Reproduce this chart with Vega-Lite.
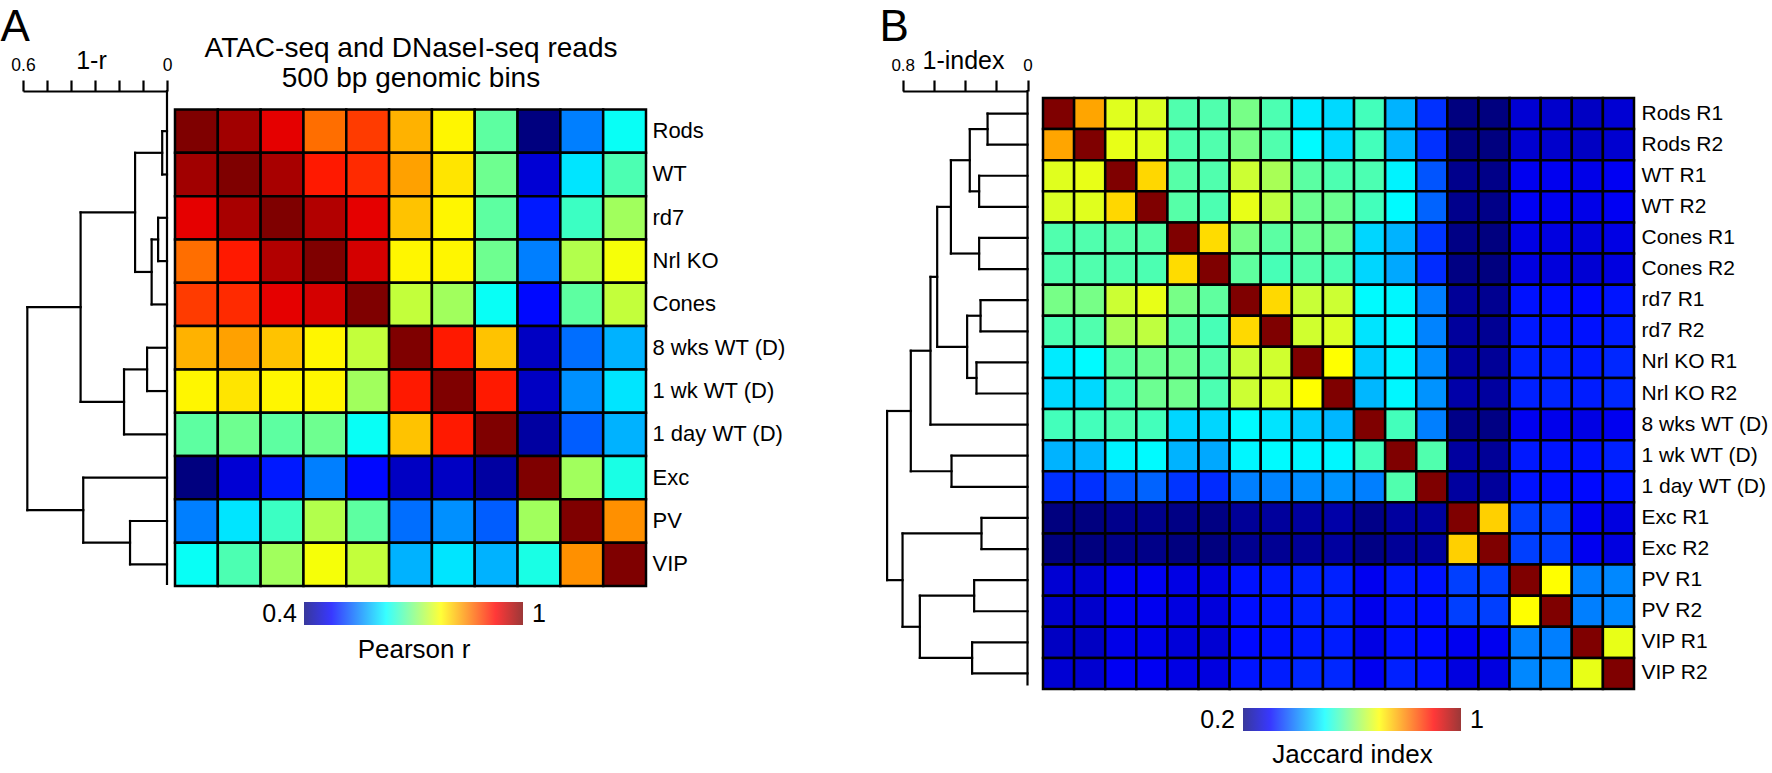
{
  "$schema": "https://vega.github.io/schema/vega-lite/v6.json",
  "width": 1772,
  "height": 773,
  "autosize": {"type": "none"},
  "padding": 0,
  "config": {
    "font": "Liberation Sans",
    "view": {"stroke": null},
    "axis": {"grid": false, "domainColor": "black", "tickColor": "black", "labelColor": "black", "titleColor": "black", "titleFontWeight": "normal"}
  },
  "resolve": {"scale": {"x": "independent", "y": "independent", "color": "independent"}, "axis": {"x": "independent", "y": "independent"}},
  "layer": [
    {
      "data": {"values": [
        {"r":0,"c":0,"v":1},{"r":0,"c":1,"v":0.98},{"r":0,"c":2,"v":0.94},{"r":0,"c":3,"v":0.86},{"r":0,"c":4,"v":0.89},{"r":0,"c":5,"v":0.82},{"r":0,"c":6,"v":0.78},{"r":0,"c":7,"v":0.68},{"r":0,"c":8,"v":0.40},{"r":0,"c":9,"v":0.55},{"r":0,"c":10,"v":0.63},
        {"r":1,"c":0,"v":0.98},{"r":1,"c":1,"v":1},{"r":1,"c":2,"v":0.976},{"r":1,"c":3,"v":0.91},{"r":1,"c":4,"v":0.90},{"r":1,"c":5,"v":0.83},{"r":1,"c":6,"v":0.79},{"r":1,"c":7,"v":0.69},{"r":1,"c":8,"v":0.45},{"r":1,"c":9,"v":0.61},{"r":1,"c":10,"v":0.67},
        {"r":2,"c":0,"v":0.94},{"r":2,"c":1,"v":0.976},{"r":2,"c":2,"v":1},{"r":2,"c":3,"v":0.97},{"r":2,"c":4,"v":0.94},{"r":2,"c":5,"v":0.81},{"r":2,"c":6,"v":0.78},{"r":2,"c":7,"v":0.68},{"r":2,"c":8,"v":0.49},{"r":2,"c":9,"v":0.66},{"r":2,"c":10,"v":0.72},
        {"r":3,"c":0,"v":0.86},{"r":3,"c":1,"v":0.91},{"r":3,"c":2,"v":0.97},{"r":3,"c":3,"v":1},{"r":3,"c":4,"v":0.95},{"r":3,"c":5,"v":0.78},{"r":3,"c":6,"v":0.78},{"r":3,"c":7,"v":0.69},{"r":3,"c":8,"v":0.55},{"r":3,"c":9,"v":0.73},{"r":3,"c":10,"v":0.77},
        {"r":4,"c":0,"v":0.89},{"r":4,"c":1,"v":0.90},{"r":4,"c":2,"v":0.94},{"r":4,"c":3,"v":0.95},{"r":4,"c":4,"v":1},{"r":4,"c":5,"v":0.74},{"r":4,"c":6,"v":0.72},{"r":4,"c":7,"v":0.63},{"r":4,"c":8,"v":0.48},{"r":4,"c":9,"v":0.68},{"r":4,"c":10,"v":0.74},
        {"r":5,"c":0,"v":0.82},{"r":5,"c":1,"v":0.83},{"r":5,"c":2,"v":0.81},{"r":5,"c":3,"v":0.78},{"r":5,"c":4,"v":0.74},{"r":5,"c":5,"v":1},{"r":5,"c":6,"v":0.91},{"r":5,"c":7,"v":0.81},{"r":5,"c":8,"v":0.44},{"r":5,"c":9,"v":0.54},{"r":5,"c":10,"v":0.58},
        {"r":6,"c":0,"v":0.78},{"r":6,"c":1,"v":0.79},{"r":6,"c":2,"v":0.78},{"r":6,"c":3,"v":0.78},{"r":6,"c":4,"v":0.72},{"r":6,"c":5,"v":0.91},{"r":6,"c":6,"v":1},{"r":6,"c":7,"v":0.91},{"r":6,"c":8,"v":0.44},{"r":6,"c":9,"v":0.56},{"r":6,"c":10,"v":0.61},
        {"r":7,"c":0,"v":0.68},{"r":7,"c":1,"v":0.69},{"r":7,"c":2,"v":0.68},{"r":7,"c":3,"v":0.69},{"r":7,"c":4,"v":0.63},{"r":7,"c":5,"v":0.81},{"r":7,"c":6,"v":0.91},{"r":7,"c":7,"v":1},{"r":7,"c":8,"v":0.42},{"r":7,"c":9,"v":0.53},{"r":7,"c":10,"v":0.58},
        {"r":8,"c":0,"v":0.40},{"r":8,"c":1,"v":0.45},{"r":8,"c":2,"v":0.49},{"r":8,"c":3,"v":0.55},{"r":8,"c":4,"v":0.48},{"r":8,"c":5,"v":0.44},{"r":8,"c":6,"v":0.44},{"r":8,"c":7,"v":0.42},{"r":8,"c":8,"v":1},{"r":8,"c":9,"v":0.72},{"r":8,"c":10,"v":0.64},
        {"r":9,"c":0,"v":0.55},{"r":9,"c":1,"v":0.61},{"r":9,"c":2,"v":0.66},{"r":9,"c":3,"v":0.73},{"r":9,"c":4,"v":0.68},{"r":9,"c":5,"v":0.54},{"r":9,"c":6,"v":0.56},{"r":9,"c":7,"v":0.53},{"r":9,"c":8,"v":0.72},{"r":9,"c":9,"v":1},{"r":9,"c":10,"v":0.84},
        {"r":10,"c":0,"v":0.63},{"r":10,"c":1,"v":0.67},{"r":10,"c":2,"v":0.72},{"r":10,"c":3,"v":0.77},{"r":10,"c":4,"v":0.74},{"r":10,"c":5,"v":0.58},{"r":10,"c":6,"v":0.61},{"r":10,"c":7,"v":0.58},{"r":10,"c":8,"v":0.64},{"r":10,"c":9,"v":0.84},{"r":10,"c":10,"v":1}
      ]},
      "transform": [{"lookup": "r", "from": {"data": {"values": [
        {"i":0,"name":"Rods"},{"i":1,"name":"WT"},{"i":2,"name":"rd7"},{"i":3,"name":"Nrl KO"},{"i":4,"name":"Cones"},{"i":5,"name":"8 wks WT (D)"},{"i":6,"name":"1 wk WT (D)"},{"i":7,"name":"1 day WT (D)"},{"i":8,"name":"Exc"},{"i":9,"name":"PV"},{"i":10,"name":"VIP"}
      ]}, "key": "i", "fields": ["name"]}}],
      "mark": {"type": "rect", "stroke": "black", "strokeWidth": 2.5},
      "encoding": {
        "x": {"field": "c", "type": "ordinal", "scale": {"range": [175, 646], "paddingInner": 0, "paddingOuter": 0},
          "axis": {"orient": "top", "offset": -109.5, "labels": false, "ticks": false, "domain": false,
            "title": ["ATAC-seq and DNaseI-seq reads", "500 bp genomic bins"], "titleFontSize": 28, "titleLineHeight": 30.5,
            "titleBaseline": "alphabetic", "titleY": -53.5}},
        "y": {"field": "name", "type": "ordinal", "sort": {"field": "r", "op": "min"}, "scale": {"range": [109.5, 586], "paddingInner": 0, "paddingOuter": 0},
          "axis": {"orient": "right", "offset": -1126, "title": null, "domain": false, "ticks": false, "labelFontSize": 22, "labelPadding": 6}},
        "color": {"field": "v", "type": "quantitative", "legend": null,
          "scale": {"domain": [0.4, 0.475, 0.55, 0.625, 0.7, 0.775, 0.85, 0.925, 1], "range": ["#00007F","#0000FF","#007FFF","#00FFFF","#7FFF7F","#FFFF00","#FF7F00","#FF0000","#7F0000"], "interpolate": "rgb"}}
      }
    },
    {
      "data": {"values": [
        {"x1":0,"x2":0,"y1":-0.427,"y2":10.95},
        {"x1":0,"x2":0.02,"y1":0.5,"y2":0.5},{"x1":0,"x2":0.02,"y1":1.5,"y2":1.5},{"x1":0.02,"x2":0.02,"y1":0.5,"y2":1.5},
        {"x1":0,"x2":0.037,"y1":2.5,"y2":2.5},{"x1":0,"x2":0.037,"y1":3.5,"y2":3.5},{"x1":0.037,"x2":0.037,"y1":2.5,"y2":3.5},
        {"x1":0.037,"x2":0.064,"y1":3,"y2":3},{"x1":0,"x2":0.064,"y1":4.5,"y2":4.5},{"x1":0.064,"x2":0.064,"y1":3,"y2":4.5},
        {"x1":0.02,"x2":0.133,"y1":1,"y2":1},{"x1":0.064,"x2":0.133,"y1":3.75,"y2":3.75},{"x1":0.133,"x2":0.133,"y1":1,"y2":3.75},
        {"x1":0,"x2":0.083,"y1":5.5,"y2":5.5},{"x1":0,"x2":0.083,"y1":6.5,"y2":6.5},{"x1":0.083,"x2":0.083,"y1":5.5,"y2":6.5},
        {"x1":0.083,"x2":0.179,"y1":6,"y2":6},{"x1":0,"x2":0.179,"y1":7.5,"y2":7.5},{"x1":0.179,"x2":0.179,"y1":6,"y2":7.5},
        {"x1":0.133,"x2":0.36,"y1":2.375,"y2":2.375},{"x1":0.179,"x2":0.36,"y1":6.75,"y2":6.75},{"x1":0.36,"x2":0.36,"y1":2.375,"y2":6.75},
        {"x1":0,"x2":0.154,"y1":9.5,"y2":9.5},{"x1":0,"x2":0.154,"y1":10.5,"y2":10.5},{"x1":0.154,"x2":0.154,"y1":9.5,"y2":10.5},
        {"x1":0,"x2":0.349,"y1":8.5,"y2":8.5},{"x1":0.154,"x2":0.349,"y1":10,"y2":10},{"x1":0.349,"x2":0.349,"y1":8.5,"y2":10},
        {"x1":0.36,"x2":0.582,"y1":4.5625,"y2":4.5625},{"x1":0.349,"x2":0.582,"y1":9.25,"y2":9.25},{"x1":0.582,"x2":0.582,"y1":4.5625,"y2":9.25}
      ]},
      "mark": {"type": "rule", "color": "black", "strokeWidth": 2.2, "strokeCap": "square"},
      "encoding": {
        "x": {"field": "x1", "type": "quantitative", "scale": {"domain": [0, 0.6], "range": [167, 23], "nice": false, "zero": false},
          "axis": {"orient": "top", "offset": -91, "values": [0, 0.1, 0.2, 0.3, 0.4, 0.5, 0.6], "format": "~g",
            "labelExpr": "datum.value == 0 || datum.value == 0.6 ? datum.label : ''", "labelFlush": false, "labelOverlap": false,
            "tickSize": 11, "tickWidth": 2.2, "domainWidth": 2.2, "labelFontSize": 17.5, "labelBaseline": "alphabetic", "labelPadding": 10,
            "title": "1-r", "titleFontSize": 25, "titleX": 91, "titleY": -23, "titleBaseline": "alphabetic", "titleAlign": "center"}},
        "x2": {"field": "x2"},
        "y": {"field": "y1", "type": "quantitative", "scale": {"domain": [0, 11], "range": [109.5, 586], "nice": false, "zero": false},
          "axis": {"orient": "left", "offset": 0, "domain": false, "ticks": false, "labels": false,
            "title": "A", "titleAngle": 0, "titleFontSize": 44, "titleX": 0, "titleY": 40.5, "titleAlign": "left", "titleBaseline": "alphabetic"}},
        "y2": {"field": "y2"}
      }
    },
    {
      "data": {"values": [{"lo": 0.4, "hi": 1, "loText": "0.4", "hiText": "1"}]},
      "encoding": {
        "x": {"field": "lo", "type": "quantitative", "scale": {"domain": [0.4, 1], "range": [304, 523], "nice": false, "zero": false},
          "axis": {"orient": "bottom", "offset": -148, "labels": false, "ticks": false, "domain": false,
            "title": "Pearson r", "titleFontSize": 26, "titleY": 32, "titleBaseline": "alphabetic"}},
        "y": {"datum": 0.5, "type": "quantitative", "scale": {"domain": [0, 1], "range": [625, 602], "nice": false, "zero": false}, "axis": null}
      },
      "layer": [
        {"mark": {"type": "rect", "opacity": 0.78, "color": {"gradient": "linear", "x1": 0, "y1": 0, "x2": 1, "y2": 0, "stops": [
          {"offset": 0, "color": "#00007F"}, {"offset": 0.125, "color": "#0000FF"}, {"offset": 0.375, "color": "#00FFFF"},
          {"offset": 0.625, "color": "#FFFF00"}, {"offset": 0.875, "color": "#FF0000"}, {"offset": 1, "color": "#7F0000"}]}},
         "encoding": {"x2": {"field": "hi"}, "y": {"datum": 0, "type": "quantitative"}, "y2": {"datum": 1}}},
        {"mark": {"type": "text", "align": "right", "baseline": "middle", "dx": -7, "fontSize": 25, "color": "black"},
         "encoding": {"text": {"field": "loText"}}},
        {"mark": {"type": "text", "align": "left", "baseline": "middle", "dx": 9, "fontSize": 25, "color": "black"},
         "encoding": {"x": {"field": "hi", "type": "quantitative"}, "text": {"field": "hiText"}}}
      ]
    },
    {
      "data": {"values": [
        {"r":0,"c":0,"v":1},{"r":0,"c":1,"v":0.77},{"r":0,"c":2,"v":0.676},{"r":0,"c":3,"v":0.671},{"r":0,"c":4,"v":0.563},{"r":0,"c":5,"v":0.563},{"r":0,"c":6,"v":0.594},{"r":0,"c":7,"v":0.56},{"r":0,"c":8,"v":0.484},{"r":0,"c":9,"v":0.47},{"r":0,"c":10,"v":0.553},{"r":0,"c":11,"v":0.441},{"r":0,"c":12,"v":0.338},{"r":0,"c":13,"v":0.2},{"r":0,"c":14,"v":0.2},{"r":0,"c":15,"v":0.266},{"r":0,"c":16,"v":0.26},{"r":0,"c":17,"v":0.253},{"r":0,"c":18,"v":0.266},
        {"r":1,"c":0,"v":0.77},{"r":1,"c":1,"v":1},{"r":1,"c":2,"v":0.682},{"r":1,"c":3,"v":0.676},{"r":1,"c":4,"v":0.563},{"r":1,"c":5,"v":0.563},{"r":1,"c":6,"v":0.594},{"r":1,"c":7,"v":0.563},{"r":1,"c":8,"v":0.497},{"r":1,"c":9,"v":0.47},{"r":1,"c":10,"v":0.553},{"r":1,"c":11,"v":0.444},{"r":1,"c":12,"v":0.338},{"r":1,"c":13,"v":0.2},{"r":1,"c":14,"v":0.2},{"r":1,"c":15,"v":0.263},{"r":1,"c":16,"v":0.26},{"r":1,"c":17,"v":0.253},{"r":1,"c":18,"v":0.263},
        {"r":2,"c":0,"v":0.676},{"r":2,"c":1,"v":0.682},{"r":2,"c":2,"v":1},{"r":2,"c":3,"v":0.731},{"r":2,"c":4,"v":0.568},{"r":2,"c":5,"v":0.563},{"r":2,"c":6,"v":0.66},{"r":2,"c":7,"v":0.632},{"r":2,"c":8,"v":0.572},{"r":2,"c":9,"v":0.561},{"r":2,"c":10,"v":0.56},{"r":2,"c":11,"v":0.491},{"r":2,"c":12,"v":0.366},{"r":2,"c":13,"v":0.21},{"r":2,"c":14,"v":0.207},{"r":2,"c":15,"v":0.288},{"r":2,"c":16,"v":0.288},{"r":2,"c":17,"v":0.282},{"r":2,"c":18,"v":0.291},
        {"r":3,"c":0,"v":0.671},{"r":3,"c":1,"v":0.676},{"r":3,"c":2,"v":0.731},{"r":3,"c":3,"v":1},{"r":3,"c":4,"v":0.568},{"r":3,"c":5,"v":0.56},{"r":3,"c":6,"v":0.682},{"r":3,"c":7,"v":0.65},{"r":3,"c":8,"v":0.585},{"r":3,"c":9,"v":0.585},{"r":3,"c":10,"v":0.553},{"r":3,"c":11,"v":0.497},{"r":3,"c":12,"v":0.378},{"r":3,"c":13,"v":0.21},{"r":3,"c":14,"v":0.207},{"r":3,"c":15,"v":0.291},{"r":3,"c":16,"v":0.288},{"r":3,"c":17,"v":0.282},{"r":3,"c":18,"v":0.291},
        {"r":4,"c":0,"v":0.563},{"r":4,"c":1,"v":0.563},{"r":4,"c":2,"v":0.568},{"r":4,"c":3,"v":0.568},{"r":4,"c":4,"v":1},{"r":4,"c":5,"v":0.727},{"r":4,"c":6,"v":0.594},{"r":4,"c":7,"v":0.572},{"r":4,"c":8,"v":0.585},{"r":4,"c":9,"v":0.588},{"r":4,"c":10,"v":0.468},{"r":4,"c":11,"v":0.441},{"r":4,"c":12,"v":0.341},{"r":4,"c":13,"v":0.205},{"r":4,"c":14,"v":0.2},{"r":4,"c":15,"v":0.279},{"r":4,"c":16,"v":0.276},{"r":4,"c":17,"v":0.27},{"r":4,"c":18,"v":0.279},
        {"r":5,"c":0,"v":0.563},{"r":5,"c":1,"v":0.563},{"r":5,"c":2,"v":0.563},{"r":5,"c":3,"v":0.56},{"r":5,"c":4,"v":0.727},{"r":5,"c":5,"v":1},{"r":5,"c":6,"v":0.575},{"r":5,"c":7,"v":0.556},{"r":5,"c":8,"v":0.566},{"r":5,"c":9,"v":0.56},{"r":5,"c":10,"v":0.468},{"r":5,"c":11,"v":0.432},{"r":5,"c":12,"v":0.334},{"r":5,"c":13,"v":0.203},{"r":5,"c":14,"v":0.2},{"r":5,"c":15,"v":0.276},{"r":5,"c":16,"v":0.273},{"r":5,"c":17,"v":0.266},{"r":5,"c":18,"v":0.276},
        {"r":6,"c":0,"v":0.594},{"r":6,"c":1,"v":0.594},{"r":6,"c":2,"v":0.66},{"r":6,"c":3,"v":0.682},{"r":6,"c":4,"v":0.594},{"r":6,"c":5,"v":0.575},{"r":6,"c":6,"v":1},{"r":6,"c":7,"v":0.73},{"r":6,"c":8,"v":0.657},{"r":6,"c":9,"v":0.66},{"r":6,"c":10,"v":0.497},{"r":6,"c":11,"v":0.494},{"r":6,"c":12,"v":0.4},{"r":6,"c":13,"v":0.219},{"r":6,"c":14,"v":0.213},{"r":6,"c":15,"v":0.313},{"r":6,"c":16,"v":0.31},{"r":6,"c":17,"v":0.306},{"r":6,"c":18,"v":0.316},
        {"r":7,"c":0,"v":0.56},{"r":7,"c":1,"v":0.563},{"r":7,"c":2,"v":0.632},{"r":7,"c":3,"v":0.65},{"r":7,"c":4,"v":0.572},{"r":7,"c":5,"v":0.556},{"r":7,"c":6,"v":0.73},{"r":7,"c":7,"v":1},{"r":7,"c":8,"v":0.663},{"r":7,"c":9,"v":0.67},{"r":7,"c":10,"v":0.479},{"r":7,"c":11,"v":0.497},{"r":7,"c":12,"v":0.403},{"r":7,"c":13,"v":0.223},{"r":7,"c":14,"v":0.216},{"r":7,"c":15,"v":0.319},{"r":7,"c":16,"v":0.316},{"r":7,"c":17,"v":0.313},{"r":7,"c":18,"v":0.322},
        {"r":8,"c":0,"v":0.484},{"r":8,"c":1,"v":0.497},{"r":8,"c":2,"v":0.572},{"r":8,"c":3,"v":0.585},{"r":8,"c":4,"v":0.585},{"r":8,"c":5,"v":0.566},{"r":8,"c":6,"v":0.657},{"r":8,"c":7,"v":0.663},{"r":8,"c":8,"v":1},{"r":8,"c":9,"v":0.7},{"r":8,"c":10,"v":0.46},{"r":8,"c":11,"v":0.494},{"r":8,"c":12,"v":0.41},{"r":8,"c":13,"v":0.225},{"r":8,"c":14,"v":0.219},{"r":8,"c":15,"v":0.325},{"r":8,"c":16,"v":0.325},{"r":8,"c":17,"v":0.319},{"r":8,"c":18,"v":0.331},
        {"r":9,"c":0,"v":0.47},{"r":9,"c":1,"v":0.47},{"r":9,"c":2,"v":0.561},{"r":9,"c":3,"v":0.585},{"r":9,"c":4,"v":0.588},{"r":9,"c":5,"v":0.56},{"r":9,"c":6,"v":0.66},{"r":9,"c":7,"v":0.67},{"r":9,"c":8,"v":0.7},{"r":9,"c":9,"v":1},{"r":9,"c":10,"v":0.444},{"r":9,"c":11,"v":0.494},{"r":9,"c":12,"v":0.416},{"r":9,"c":13,"v":0.232},{"r":9,"c":14,"v":0.225},{"r":9,"c":15,"v":0.325},{"r":9,"c":16,"v":0.328},{"r":9,"c":17,"v":0.322},{"r":9,"c":18,"v":0.331},
        {"r":10,"c":0,"v":0.553},{"r":10,"c":1,"v":0.553},{"r":10,"c":2,"v":0.56},{"r":10,"c":3,"v":0.553},{"r":10,"c":4,"v":0.468},{"r":10,"c":5,"v":0.468},{"r":10,"c":6,"v":0.497},{"r":10,"c":7,"v":0.479},{"r":10,"c":8,"v":0.46},{"r":10,"c":9,"v":0.444},{"r":10,"c":10,"v":1},{"r":10,"c":11,"v":0.553},{"r":10,"c":12,"v":0.4},{"r":10,"c":13,"v":0.207},{"r":10,"c":14,"v":0.204},{"r":10,"c":15,"v":0.288},{"r":10,"c":16,"v":0.285},{"r":10,"c":17,"v":0.279},{"r":10,"c":18,"v":0.288},
        {"r":11,"c":0,"v":0.441},{"r":11,"c":1,"v":0.444},{"r":11,"c":2,"v":0.491},{"r":11,"c":3,"v":0.497},{"r":11,"c":4,"v":0.441},{"r":11,"c":5,"v":0.432},{"r":11,"c":6,"v":0.494},{"r":11,"c":7,"v":0.497},{"r":11,"c":8,"v":0.494},{"r":11,"c":9,"v":0.494},{"r":11,"c":10,"v":0.553},{"r":11,"c":11,"v":1},{"r":11,"c":12,"v":0.563},{"r":11,"c":13,"v":0.225},{"r":11,"c":14,"v":0.219},{"r":11,"c":15,"v":0.319},{"r":11,"c":16,"v":0.316},{"r":11,"c":17,"v":0.313},{"r":11,"c":18,"v":0.325},
        {"r":12,"c":0,"v":0.338},{"r":12,"c":1,"v":0.338},{"r":12,"c":2,"v":0.366},{"r":12,"c":3,"v":0.378},{"r":12,"c":4,"v":0.341},{"r":12,"c":5,"v":0.334},{"r":12,"c":6,"v":0.4},{"r":12,"c":7,"v":0.403},{"r":12,"c":8,"v":0.41},{"r":12,"c":9,"v":0.416},{"r":12,"c":10,"v":0.4},{"r":12,"c":11,"v":0.563},{"r":12,"c":12,"v":1},{"r":12,"c":13,"v":0.225},{"r":12,"c":14,"v":0.222},{"r":12,"c":15,"v":0.313},{"r":12,"c":16,"v":0.31},{"r":12,"c":17,"v":0.306},{"r":12,"c":18,"v":0.313},
        {"r":13,"c":0,"v":0.2},{"r":13,"c":1,"v":0.2},{"r":13,"c":2,"v":0.21},{"r":13,"c":3,"v":0.21},{"r":13,"c":4,"v":0.205},{"r":13,"c":5,"v":0.203},{"r":13,"c":6,"v":0.219},{"r":13,"c":7,"v":0.223},{"r":13,"c":8,"v":0.225},{"r":13,"c":9,"v":0.232},{"r":13,"c":10,"v":0.207},{"r":13,"c":11,"v":0.225},{"r":13,"c":12,"v":0.225},{"r":13,"c":13,"v":1},{"r":13,"c":14,"v":0.737},{"r":13,"c":15,"v":0.35},{"r":13,"c":16,"v":0.35},{"r":13,"c":17,"v":0.288},{"r":13,"c":18,"v":0.276},
        {"r":14,"c":0,"v":0.2},{"r":14,"c":1,"v":0.2},{"r":14,"c":2,"v":0.207},{"r":14,"c":3,"v":0.207},{"r":14,"c":4,"v":0.2},{"r":14,"c":5,"v":0.2},{"r":14,"c":6,"v":0.213},{"r":14,"c":7,"v":0.216},{"r":14,"c":8,"v":0.219},{"r":14,"c":9,"v":0.225},{"r":14,"c":10,"v":0.204},{"r":14,"c":11,"v":0.219},{"r":14,"c":12,"v":0.222},{"r":14,"c":13,"v":0.737},{"r":14,"c":14,"v":1},{"r":14,"c":15,"v":0.35},{"r":14,"c":16,"v":0.35},{"r":14,"c":17,"v":0.288},{"r":14,"c":18,"v":0.276},
        {"r":15,"c":0,"v":0.266},{"r":15,"c":1,"v":0.263},{"r":15,"c":2,"v":0.288},{"r":15,"c":3,"v":0.291},{"r":15,"c":4,"v":0.279},{"r":15,"c":5,"v":0.276},{"r":15,"c":6,"v":0.313},{"r":15,"c":7,"v":0.319},{"r":15,"c":8,"v":0.325},{"r":15,"c":9,"v":0.325},{"r":15,"c":10,"v":0.288},{"r":15,"c":11,"v":0.319},{"r":15,"c":12,"v":0.313},{"r":15,"c":13,"v":0.35},{"r":15,"c":14,"v":0.35},{"r":15,"c":15,"v":1},{"r":15,"c":16,"v":0.7},{"r":15,"c":17,"v":0.4},{"r":15,"c":18,"v":0.407},
        {"r":16,"c":0,"v":0.26},{"r":16,"c":1,"v":0.26},{"r":16,"c":2,"v":0.288},{"r":16,"c":3,"v":0.288},{"r":16,"c":4,"v":0.276},{"r":16,"c":5,"v":0.273},{"r":16,"c":6,"v":0.31},{"r":16,"c":7,"v":0.316},{"r":16,"c":8,"v":0.325},{"r":16,"c":9,"v":0.328},{"r":16,"c":10,"v":0.285},{"r":16,"c":11,"v":0.316},{"r":16,"c":12,"v":0.31},{"r":16,"c":13,"v":0.35},{"r":16,"c":14,"v":0.35},{"r":16,"c":15,"v":0.7},{"r":16,"c":16,"v":1},{"r":16,"c":17,"v":0.4},{"r":16,"c":18,"v":0.407},
        {"r":17,"c":0,"v":0.253},{"r":17,"c":1,"v":0.253},{"r":17,"c":2,"v":0.282},{"r":17,"c":3,"v":0.282},{"r":17,"c":4,"v":0.27},{"r":17,"c":5,"v":0.266},{"r":17,"c":6,"v":0.306},{"r":17,"c":7,"v":0.313},{"r":17,"c":8,"v":0.319},{"r":17,"c":9,"v":0.322},{"r":17,"c":10,"v":0.279},{"r":17,"c":11,"v":0.313},{"r":17,"c":12,"v":0.306},{"r":17,"c":13,"v":0.288},{"r":17,"c":14,"v":0.288},{"r":17,"c":15,"v":0.4},{"r":17,"c":16,"v":0.4},{"r":17,"c":17,"v":1},{"r":17,"c":18,"v":0.682},
        {"r":18,"c":0,"v":0.266},{"r":18,"c":1,"v":0.263},{"r":18,"c":2,"v":0.291},{"r":18,"c":3,"v":0.291},{"r":18,"c":4,"v":0.279},{"r":18,"c":5,"v":0.276},{"r":18,"c":6,"v":0.316},{"r":18,"c":7,"v":0.322},{"r":18,"c":8,"v":0.331},{"r":18,"c":9,"v":0.331},{"r":18,"c":10,"v":0.288},{"r":18,"c":11,"v":0.325},{"r":18,"c":12,"v":0.313},{"r":18,"c":13,"v":0.276},{"r":18,"c":14,"v":0.276},{"r":18,"c":15,"v":0.407},{"r":18,"c":16,"v":0.407},{"r":18,"c":17,"v":0.682},{"r":18,"c":18,"v":1}
      ]},
      "transform": [{"lookup": "r", "from": {"data": {"values": [
        {"i":0,"name":"Rods R1"},{"i":1,"name":"Rods R2"},{"i":2,"name":"WT R1"},{"i":3,"name":"WT R2"},{"i":4,"name":"Cones R1"},{"i":5,"name":"Cones R2"},{"i":6,"name":"rd7 R1"},{"i":7,"name":"rd7 R2"},{"i":8,"name":"Nrl KO R1"},{"i":9,"name":"Nrl KO R2"},{"i":10,"name":"8 wks WT (D)"},{"i":11,"name":"1 wk WT (D)"},{"i":12,"name":"1 day WT (D)"},{"i":13,"name":"Exc R1"},{"i":14,"name":"Exc R2"},{"i":15,"name":"PV R1"},{"i":16,"name":"PV R2"},{"i":17,"name":"VIP R1"},{"i":18,"name":"VIP R2"}
      ]}, "key": "i", "fields": ["name"]}}],
      "mark": {"type": "rect", "stroke": "black", "strokeWidth": 2.5},
      "encoding": {
        "x": {"field": "c", "type": "ordinal", "scale": {"range": [1043, 1634], "paddingInner": 0, "paddingOuter": 0}, "axis": null},
        "y": {"field": "name", "type": "ordinal", "sort": {"field": "r", "op": "min"}, "scale": {"range": [98, 689], "paddingInner": 0, "paddingOuter": 0},
          "axis": {"orient": "right", "offset": -138, "title": null, "domain": false, "ticks": false, "labelFontSize": 21, "labelPadding": 7}},
        "color": {"field": "v", "type": "quantitative", "legend": null,
          "scale": {"domain": [0.2, 0.3, 0.4, 0.5, 0.6, 0.7, 0.8, 0.9, 1], "range": ["#00007F","#0000FF","#007FFF","#00FFFF","#7FFF7F","#FFFF00","#FF7F00","#FF0000","#7F0000"], "interpolate": "rgb"}}
      }
    },
    {
      "data": {"values": [
        {"x1":0,"x2":0,"y1":-0.225,"y2":18.85},
        {"x1":0,"x2":0.256,"y1":0.5,"y2":0.5},{"x1":0,"x2":0.256,"y1":1.5,"y2":1.5},{"x1":0.256,"x2":0.256,"y1":0.5,"y2":1.5},
        {"x1":0,"x2":0.31,"y1":2.5,"y2":2.5},{"x1":0,"x2":0.31,"y1":3.5,"y2":3.5},{"x1":0.31,"x2":0.31,"y1":2.5,"y2":3.5},
        {"x1":0.256,"x2":0.37,"y1":1,"y2":1},{"x1":0.31,"x2":0.37,"y1":3,"y2":3},{"x1":0.37,"x2":0.37,"y1":1,"y2":3},
        {"x1":0,"x2":0.31,"y1":4.5,"y2":4.5},{"x1":0,"x2":0.31,"y1":5.5,"y2":5.5},{"x1":0.31,"x2":0.31,"y1":4.5,"y2":5.5},
        {"x1":0.37,"x2":0.491,"y1":2,"y2":2},{"x1":0.31,"x2":0.491,"y1":5,"y2":5},{"x1":0.491,"x2":0.491,"y1":2,"y2":5},
        {"x1":0,"x2":0.301,"y1":6.5,"y2":6.5},{"x1":0,"x2":0.301,"y1":7.5,"y2":7.5},{"x1":0.301,"x2":0.301,"y1":6.5,"y2":7.5},
        {"x1":0,"x2":0.327,"y1":8.5,"y2":8.5},{"x1":0,"x2":0.327,"y1":9.5,"y2":9.5},{"x1":0.327,"x2":0.327,"y1":8.5,"y2":9.5},
        {"x1":0.301,"x2":0.387,"y1":7,"y2":7},{"x1":0.327,"x2":0.387,"y1":9,"y2":9},{"x1":0.387,"x2":0.387,"y1":7,"y2":9},
        {"x1":0.491,"x2":0.579,"y1":3.5,"y2":3.5},{"x1":0.387,"x2":0.579,"y1":8,"y2":8},{"x1":0.579,"x2":0.579,"y1":3.5,"y2":8},
        {"x1":0.579,"x2":0.622,"y1":5.75,"y2":5.75},{"x1":0,"x2":0.622,"y1":10.5,"y2":10.5},{"x1":0.622,"x2":0.622,"y1":5.75,"y2":10.5},
        {"x1":0,"x2":0.487,"y1":11.5,"y2":11.5},{"x1":0,"x2":0.487,"y1":12.5,"y2":12.5},{"x1":0.487,"x2":0.487,"y1":11.5,"y2":12.5},
        {"x1":0.622,"x2":0.748,"y1":8.125,"y2":8.125},{"x1":0.487,"x2":0.748,"y1":12,"y2":12},{"x1":0.748,"x2":0.748,"y1":8.125,"y2":12},
        {"x1":0,"x2":0.295,"y1":13.5,"y2":13.5},{"x1":0,"x2":0.295,"y1":14.5,"y2":14.5},{"x1":0.295,"x2":0.295,"y1":13.5,"y2":14.5},
        {"x1":0,"x2":0.342,"y1":15.5,"y2":15.5},{"x1":0,"x2":0.342,"y1":16.5,"y2":16.5},{"x1":0.342,"x2":0.342,"y1":15.5,"y2":16.5},
        {"x1":0,"x2":0.355,"y1":17.5,"y2":17.5},{"x1":0,"x2":0.355,"y1":18.5,"y2":18.5},{"x1":0.355,"x2":0.355,"y1":17.5,"y2":18.5},
        {"x1":0.342,"x2":0.69,"y1":16,"y2":16},{"x1":0.355,"x2":0.69,"y1":18,"y2":18},{"x1":0.69,"x2":0.69,"y1":16,"y2":18},
        {"x1":0.295,"x2":0.801,"y1":14,"y2":14},{"x1":0.69,"x2":0.801,"y1":17,"y2":17},{"x1":0.801,"x2":0.801,"y1":14,"y2":17},
        {"x1":0.748,"x2":0.9,"y1":10.0625,"y2":10.0625},{"x1":0.801,"x2":0.9,"y1":15.5,"y2":15.5},{"x1":0.9,"x2":0.9,"y1":10.0625,"y2":15.5}
      ]},
      "mark": {"type": "rule", "color": "black", "strokeWidth": 2.2, "strokeCap": "square"},
      "encoding": {
        "x": {"field": "x1", "type": "quantitative", "scale": {"domain": [0, 0.8], "range": [1027.5, 902.7], "nice": false, "zero": false},
          "axis": {"orient": "top", "offset": -91, "values": [0, 0.2, 0.4, 0.6, 0.8], "format": "~g",
            "labelExpr": "datum.value == 0 || datum.value == 0.8 ? datum.label : ''", "labelFlush": false, "labelOverlap": false,
            "tickSize": 11, "tickWidth": 2.2, "domainWidth": 2.2, "labelFontSize": 17, "labelBaseline": "alphabetic", "labelPadding": 10,
            "title": "1-index", "titleFontSize": 25, "titleX": 963, "titleY": -23, "titleBaseline": "alphabetic", "titleAlign": "center"}},
        "x2": {"field": "x2"},
        "y": {"field": "y1", "type": "quantitative", "scale": {"domain": [0, 19], "range": [98, 689], "nice": false, "zero": false},
          "axis": {"orient": "left", "offset": -879, "domain": false, "ticks": false, "labels": false,
            "title": "B", "titleAngle": 0, "titleFontSize": 44, "titleX": 0, "titleY": 40.5, "titleAlign": "left", "titleBaseline": "alphabetic"}},
        "y2": {"field": "y2"}
      }
    },
    {
      "data": {"values": [{"lo": 0.2, "hi": 1, "loText": "0.2", "hiText": "1"}]},
      "encoding": {
        "x": {"field": "lo", "type": "quantitative", "scale": {"domain": [0.2, 1], "range": [1243, 1461], "nice": false, "zero": false},
          "axis": {"orient": "bottom", "offset": -42, "labels": false, "ticks": false, "domain": false,
            "title": "Jaccard index", "titleFontSize": 26, "titleY": 31, "titleBaseline": "alphabetic"}},
        "y": {"datum": 0.5, "type": "quantitative", "scale": {"domain": [0, 1], "range": [731, 708], "nice": false, "zero": false}, "axis": null}
      },
      "layer": [
        {"mark": {"type": "rect", "opacity": 0.78, "color": {"gradient": "linear", "x1": 0, "y1": 0, "x2": 1, "y2": 0, "stops": [
          {"offset": 0, "color": "#00007F"}, {"offset": 0.125, "color": "#0000FF"}, {"offset": 0.375, "color": "#00FFFF"},
          {"offset": 0.625, "color": "#FFFF00"}, {"offset": 0.875, "color": "#FF0000"}, {"offset": 1, "color": "#7F0000"}]}},
         "encoding": {"x2": {"field": "hi"}, "y": {"datum": 0, "type": "quantitative"}, "y2": {"datum": 1}}},
        {"mark": {"type": "text", "align": "right", "baseline": "middle", "dx": -8, "fontSize": 25, "color": "black"},
         "encoding": {"text": {"field": "loText"}}},
        {"mark": {"type": "text", "align": "left", "baseline": "middle", "dx": 9, "fontSize": 25, "color": "black"},
         "encoding": {"x": {"field": "hi", "type": "quantitative"}, "text": {"field": "hiText"}}}
      ]
    }
  ]
}
